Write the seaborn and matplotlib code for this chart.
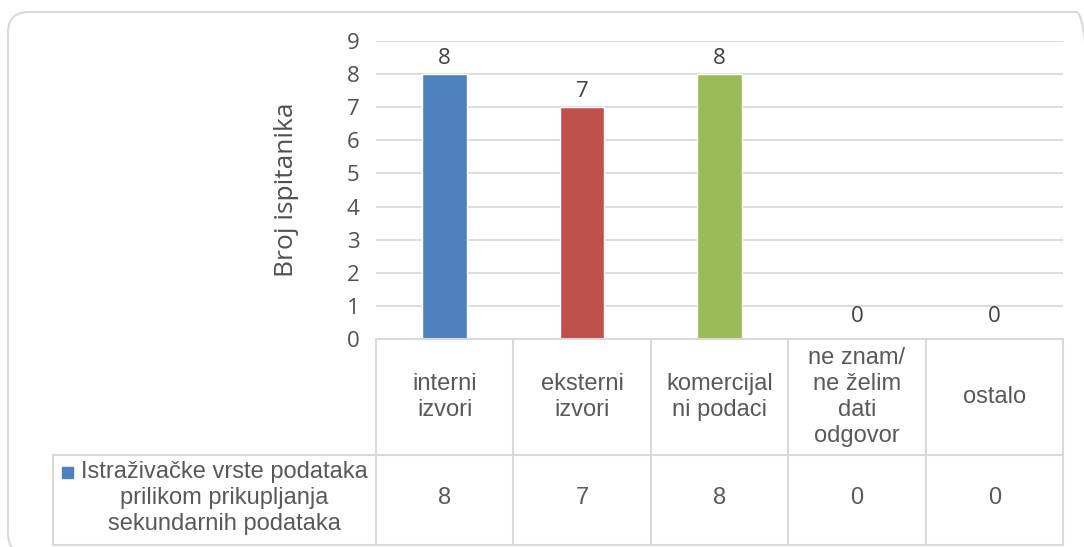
import matplotlib
matplotlib.use("Agg")
import matplotlib.pyplot as plt
from matplotlib.patches import FancyBboxPatch, Rectangle
from matplotlib.lines import Line2D
import seaborn as sns
import pandas as pd

# Data
categories = ["interni\nizvori", "eksterni\nizvori", "komercijal\nni podaci",
              "ne znam/\nne želim\ndati\nodgovor", "ostalo"]
values = [8, 7, 8, 0, 0]
bar_colors = ["#4F81BD", "#C0504D", "#9BBB59", "#8064A2", "#4BACC6"]
series_name = "Istraživačke vrste podataka\nprilikom prikupljanja\nsekundarnih podataka"
y_ticks = list(range(0, 10))
y_label = "Broj ispitanika"

W, H = 1084, 547
sns.set_theme(style="white")
plt.rcParams["font.family"] = ["Open Sans", "DejaVu Sans"]

fig = plt.figure(figsize=(W / 100, H / 100), dpi=100)


def fx(px):
    return px / W


def fy(py):
    return 1 - py / H


# plot area geometry (pixels)
left, right, top, base = 376, 1063, 41, 339
ax = fig.add_axes([fx(left), fy(base), fx(right - left), (base - top) / H])

df = pd.DataFrame({"cat": categories, "val": values})
sns.barplot(data=df, x="cat", y="val", hue="cat", palette=bar_colors,
            width=0.325, legend=False, ax=ax, saturation=1)

ax.set_ylim(0, 9)
ax.set_xlim(-0.5, len(categories) - 0.5)
ax.set_yticks(y_ticks)
ax.set_yticklabels([str(t) for t in y_ticks], fontsize=16, color="#505050")
ax.tick_params(axis="y", length=0, pad=12)
ax.set_xticks([])
ax.set_xlabel("")
ax.set_ylabel(y_label, fontsize=19, color="#505050", labelpad=34)
ax.grid(axis="y", color="#D9D9D9", linewidth=1.3)
ax.set_axisbelow(True)
for s in ax.spines.values():
    s.set_visible(False)

# value labels above bars
for i, v in enumerate(values):
    off = 4 if v > 0 else 9
    ax.annotate(str(v), (i, v), xytext=(0, off), textcoords="offset points",
                ha="center", va="bottom", fontsize=16, color="#404040")

# data table below the plot
line_kw = dict(color="#D9D9D9", linewidth=1.5, transform=fig.transFigure)
row1, row2 = 455, 545
table_left = 53
col_edges = [left + (right - left) * k / len(categories) for k in range(len(categories) + 1)]

fig.add_artist(Line2D([fx(left), fx(right)], [fy(base), fy(base)], **line_kw))
fig.add_artist(Line2D([fx(table_left), fx(right)], [fy(row1), fy(row1)], **line_kw))
fig.add_artist(Line2D([fx(table_left), fx(right)], [fy(row2), fy(row2)], **line_kw))
fig.add_artist(Line2D([fx(table_left), fx(table_left)], [fy(row1), fy(row2)], **line_kw))
for xe in col_edges:
    fig.add_artist(Line2D([fx(xe), fx(xe)], [fy(base), fy(row2)], **line_kw))

tfont = ["Liberation Sans", "DejaVu Sans"]
for k, (cat, v) in enumerate(zip(categories, values)):
    cx = (col_edges[k] + col_edges[k + 1]) / 2
    fig.text(fx(cx), fy((base + row1) / 2), cat, ha="center", va="center",
             fontsize=17, color="#595959", family=tfont, linespacing=1.22)
    fig.text(fx(cx), fy((row1 + row2) / 2 - 2), str(v), ha="center", va="center",
             fontsize=17, color="#595959", family=tfont)

# legend key and series name in the table's first column
fig.add_artist(Rectangle((fx(62), fy(478)), fx(11), 11 / H, color=bar_colors[0],
                         transform=fig.transFigure))
fig.text(fx(224), fy(498), series_name, ha="center", va="center",
         fontsize=17, color="#595959", family=tfont, linespacing=1.25)

# rounded chart border
fig.add_artist(FancyBboxPatch((fx(8), fy(554)), fx(1097 - 8), (554 - 12) / H,
                              boxstyle="round,pad=0,rounding_size=0.019",
                              mutation_aspect=W / H,
                              transform=fig.transFigure, facecolor="none",
                              edgecolor="#D9D9D9", linewidth=1.5))

fig.savefig("out.png", dpi=100)
